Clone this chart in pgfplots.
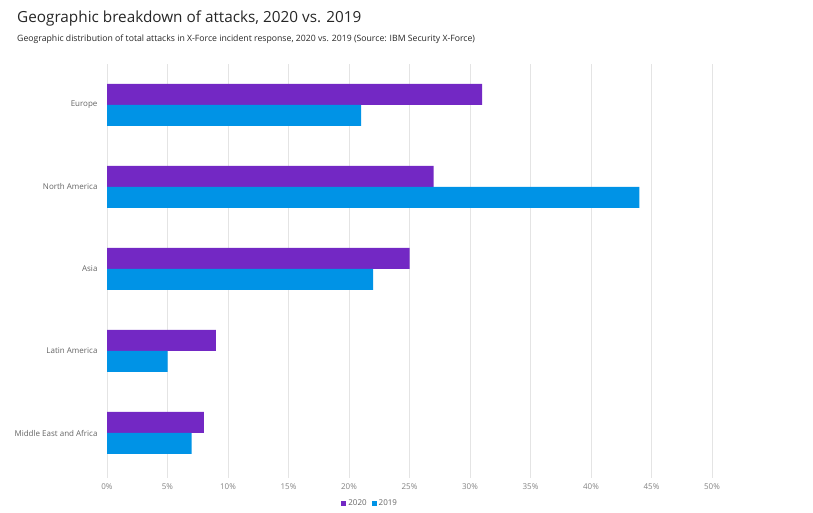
\documentclass[border=0pt]{standalone}
\usepackage{fontspec}
\setmainfont{Open Sans}
\usepackage{pgfplots}
\pgfplotsset{compat=1.18}
\definecolor{c2020}{RGB}{115,40,196}
\definecolor{c2019}{RGB}{0,147,230}
\definecolor{gridc}{RGB}{228,228,228}
\definecolor{tickc}{RGB}{130,130,130}
\definecolor{labc}{RGB}{100,100,100}
\begin{document}
\begin{tikzpicture}[x=1pt,y=1pt]
\path[use as bounding box] (0,0) rectangle (813,513);
\node[anchor=base west, inner sep=0pt, font=\fontsize{15.3}{19}\selectfont, text=black!85] at (17,490) {Geographic breakdown of attacks, 2020 vs. 2019};
\node[anchor=base west, inner sep=0pt, font=\fontsize{8.7}{10}\selectfont, text=black!85] at (17,471) {Geographic distribution of total attacks in X-Force incident response, 2020 vs. 2019 (Source: IBM Security X-Force)};
\begin{axis}[
  at={(107pt,39pt)}, anchor=south west,
  scale only axis, width=605pt, height=410pt,
  xmin=0, xmax=50, ymin=-0.5, ymax=4.5,
  xbar, bar width=21pt,
  /pgf/number format/assume math mode=true,
  ytick={0,1,2,3,4},
  yticklabels={Middle East and Africa, Latin America, Asia, North America, Europe},
  xtick={0,5,...,50},
  xticklabel={\pgfmathprintnumber{\tick}\%},
  axis line style={draw=none},
  xmajorgrids, grid style={gridc, line width=0.8pt},
  xtick pos=bottom, tick align=outside, major tick length=4pt,
  xtick style={draw=gridc, line width=0.8pt},
  ytick style={draw=none},
  xticklabel style={font=\fontsize{8}{9}\selectfont, text=tickc, yshift=-2pt},
  yticklabel style={font=\fontsize{8}{9}\selectfont, text=labc, xshift=-2pt},
  legend columns=2,
  legend style={at={(0.435,-0.071)}, anchor=center, draw=none, fill=none,
    font=\fontsize{8}{9}\selectfont, text=labc,
    /tikz/every even column/.append style={column sep=3pt}},
  legend image code/.code={\fill[#1] (0pt,-2.5pt) rectangle (5pt,2.5pt);},
]
\addplot[fill=c2020, draw=none, bar shift=10.5pt] coordinates {(8,0) (9,1) (25,2) (27,3) (31,4)};
\addplot[fill=c2019, draw=none, bar shift=-10.5pt] coordinates {(7,0) (5,1) (22,2) (44,3) (21,4)};
\legend{2020,2019}
\end{axis}
\end{tikzpicture}
\end{document}
